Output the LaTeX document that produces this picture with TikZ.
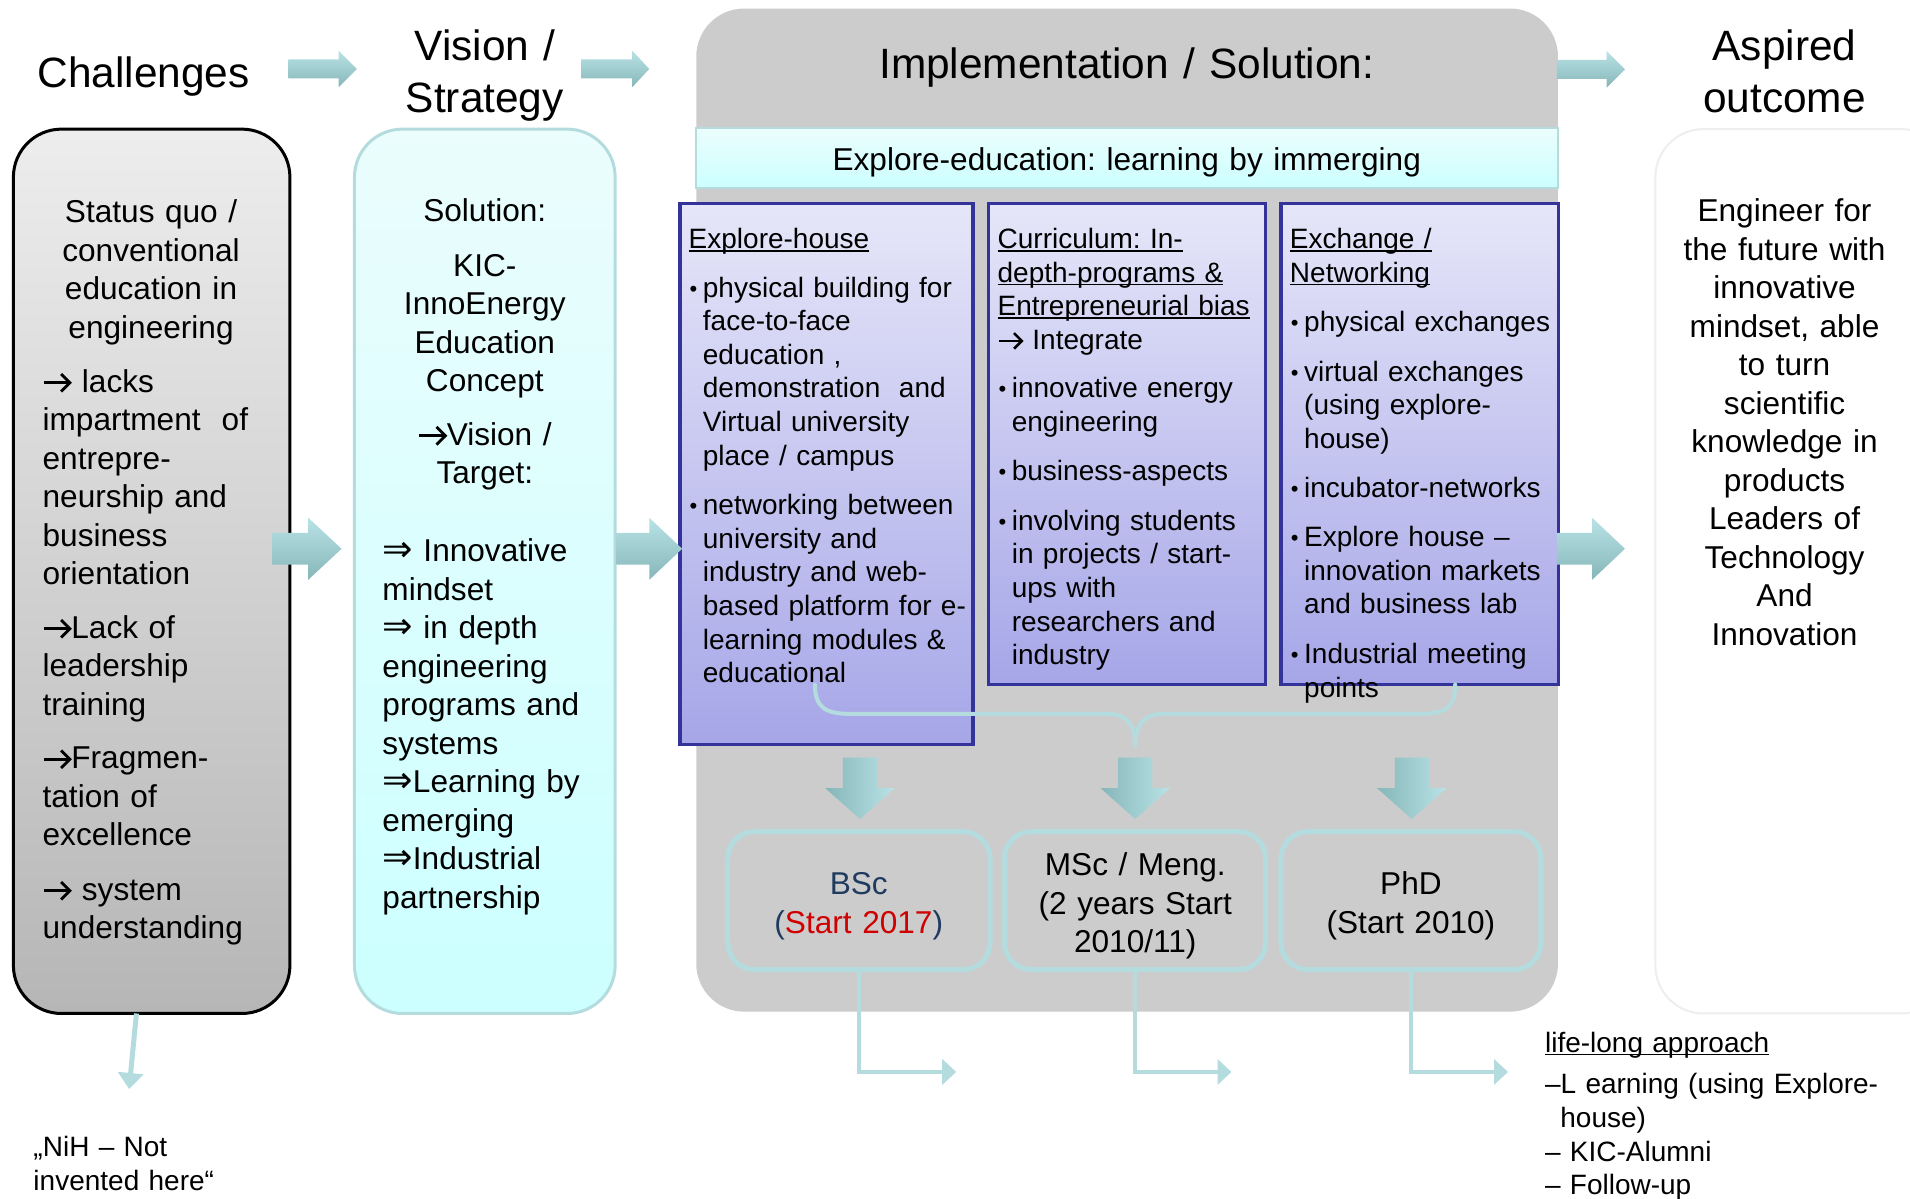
\documentclass[tikz,border=0pt]{standalone}
\usepackage{fontspec}
\setmainfont{Liberation Sans}
\newfontfamily\symf{DejaVu Sans}
\usetikzlibrary{fit,calc,arrows.meta}
\frenchspacing
\definecolor{chTop}{HTML}{EDEDED}
\definecolor{chBot}{HTML}{B6B6B6}
\definecolor{cyTop}{HTML}{EBFDFD}
\definecolor{cyBot}{HTML}{CCFFFF}
\definecolor{tealb}{HTML}{B4DCDF}
\definecolor{implgray}{HTML}{CCCCCC}
\definecolor{pTop}{HTML}{E6E6F9}
\definecolor{pBot}{HTML}{A6A6E8}
\definecolor{pborder}{HTML}{33339A}
\definecolor{aspline}{HTML}{EEEEEE}
\definecolor{arLight}{HTML}{B9E3E6}
\definecolor{arDark}{HTML}{86B6B9}
\definecolor{bscnavy}{HTML}{1F3B5F}
\definecolor{bscred}{HTML}{D00000}
\newcommand\fT{\fontsize{42.4pt}{51.5pt}\selectfont}
\newcommand\fB{\fontsize{31.6pt}{38.5pt}\selectfont}
\newcommand\fS{\fontsize{28pt}{33.6pt}\selectfont}
\newcommand\myra{\tikz[baseline=0pt,x=1em,y=1em]{\draw[line width=0.09em] (0.03,0.3) -- (0.84,0.3); \draw[line width=0.09em, line join=miter] (0.57,0.02) -- (0.85,0.3) -- (0.57,0.58);}}
\newcommand\myRa{{\symf\fontsize{1.15em}{1em}\selectfont ⇒}}
\newcommand\bl{\leavevmode\hspace*{1pt}\makebox[13.2pt][l]{\raisebox{1pt}{\fontsize{22pt}{22pt}\selectfont •}}}
\newcommand\indl{\leavevmode\hspace*{14.2pt}}
\newcommand\ulx[1]{\leavevmode\setbox0=\hbox{#1}\rlap{\rule[-3pt]{\wd0}{1.6pt}}\box0}
\newcommand\blockarrowH[6]{\shade[harr] (#1,{#4-#5}) -- (#2,{#4-#5}) -- (#2,{#4-#6}) -- (#3,#4) -- (#2,{#4+#6}) -- (#2,{#4+#5}) -- (#1,{#4+#5}) -- cycle;}
\newcommand\blockarrowD[6]{\shade[darr] ({#1-#5},#2) -- ({#1+#5},#2) -- ({#1+#5},#3) -- ({#1+#6},#3) -- (#1,#4) -- ({#1-#6},#3) -- ({#1-#5},#3) -- cycle;}
\begin{document}
\begin{tikzpicture}[x=1.2181pt,y=-1.2181pt,
  every node/.style={inner sep=0pt, outer sep=0pt},
  chalbox/.style={draw=black, line width=3pt, rounded corners=48pt, top color=chTop, bottom color=chBot},
  visbox/.style={draw=tealb, line width=3pt, rounded corners=48pt, top color=cyTop, bottom color=cyBot},
  implbox/.style={fill=implgray, rounded corners=48pt},
  bannerbox/.style={draw=tealb, line width=2pt, top color=cyTop, bottom color=cyBot},
  pbox/.style={draw=pborder, line width=3.2pt, top color=pTop, bottom color=pBot},
  degbox/.style={draw=tealb, line width=5pt, rounded corners=27pt},
  aspbox/.style={draw=aspline, line width=2pt, fill=white, rounded corners=48pt},
  ttl/.style={font=\fT, align=center, text width=620pt, anchor=base},
  bodyc/.style={font=\fB, align=center, text width=320pt, anchor=base},
  bodyl/.style={font=\fB, align=left, text width=320pt, anchor=base west},
  smalll/.style={font=\fS, align=left, text width=420pt, anchor=base west},
  conn/.style={draw=tealb, line width=4.5pt, -{Triangle[length=14pt,width=25pt]}},
  brace/.style={draw=tealb, line width=4pt, line cap=round},
  harr/.style={top color=arLight, bottom color=arDark},
  darr/.style={left color=arDark, right color=arLight}]
\useasboundingbox (0,0) rectangle (1568,984);
\clip (0,0) rectangle (1568,984);
\fill[white] (0,0) rectangle (1568,984);

% column boxes
\node[chalbox, fit={(11,106) (238,832)}] (chal) {};
\node[visbox, fit={(291,106) (505,832)}] (vis) {};
\node[implbox, fit={(571.6,7) (1279,830.5)}] (impl) {};
\node[aspbox, fit={(1359,106) (1600,832)}] (asp) {};
\node[bannerbox, fit={(571.5,105.4) (1279,154.6)}] (banner) {};
\node[pbox, fit={(558.3,167.2) (798.7,611.2)}] (eh) {};
\node[pbox, fit={(811.4,167.2) (1039,561.9)}] (cur) {};
\node[pbox, fit={(1051.6,167.2) (1279.4,561.9)}] (exch) {};
\node[degbox, fit={(597.4,682.7) (812.8,796)}] (bsc) {};
\node[degbox, fit={(824.6,682.7) (1039,796)}] (msc) {};
\node[degbox, fit={(1051.6,682.7) (1265,796)}] (phd) {};

% block arrows
\blockarrowH{237}{278}{293}{56.6}{7.8}{15}
\blockarrowH{477}{519}{533}{56.6}{7.8}{15}
\blockarrowH{1278}{1319}{1334}{57}{7.8}{15}
\blockarrowH{223.5}{253}{280.4}{450.5}{13}{25.5}
\blockarrowH{506}{533}{560}{450.5}{13}{25.5}
\blockarrowH{1278}{1307}{1334}{450.5}{13}{25.5}
\blockarrowD{706}{622}{647}{672.4}{14}{28.5}
\blockarrowD{932}{622}{647}{672.4}{14}{28.5}
\blockarrowD{1159}{622}{647}{672.4}{14}{28.5}

% titles
\node[ttl] (chT) at (118,71.5) {Challenges};
\node[ttl] (viT) at (398,50) {Vision /\\Strategy};
\node[ttl] (imT) at (925,64.5) {Implementation / Solution:};
\node[ttl] (asT) at (1465,50) {Aspired\\outcome};
\node[bodyc, text width=700pt] (banT) at (925,140) {Explore-education: learning by immerging};

% challenges text
\node[bodyc] (chA) at (124,183) {Status quo /\\conventional\\education in\\engineering};
\node[bodyl] (chB) at (35,322) {\myra{} lacks\\impartment~~of\\entrepre-\\neurship and\\business\\orientation\\[15pt]\myra Lack of\\leadership\\training\\[15pt]\myra Fragmen-\\tation of\\excellence\\[16pt]\myra{} system\\understanding};

% vision text
\node[bodyc] (viA) at (398,182) {Solution:\\[16pt]KIC-\\InnoEnergy\\Education\\Concept\\[15pt]\myra Vision /\\Target:};
\node[bodyl] (viB) at (314,461) {\myRa{} Innovative\\mindset\\\myRa{} in depth\\engineering\\programs and\\systems\\\myRa Learning by\\emerging\\\myRa Industrial\\partnership};

% aspired text
\node[bodyc] (asA) at (1465,182) {Engineer for\\the future with\\innovative\\mindset, able\\to turn\\scientific\\knowledge in\\products\\Leaders of\\Technology\\And\\Innovation};

% purple box texts
\node[smalll] (ehT) at (565.4,204) {\ulx{Explore-house}\\[15pt]\bl physical building for\\\indl face-to-face\\\indl education ,\\\indl demonstration~~and\\\indl Virtual university\\\indl place / campus\\[16pt]\bl networking between\\\indl university and\\\indl industry and web-\\\indl based platform for e-\\\indl learning modules \&\\\indl educational};
\node[smalll] (curT) at (819,204) {\ulx{Curriculum: In-}\\\ulx{depth-programs \&}\\\ulx{Entrepreneurial bias}\\\myra{} Integrate\\[15pt]\bl innovative energy\\\indl engineering\\[15.5pt]\bl business-aspects\\[16pt]\bl involving students\\\indl in projects / start-\\\indl ups with\\\indl researchers and\\\indl industry};
\node[smalll] (exT) at (1059,204) {\ulx{Exchange /}\\\ulx{Networking}\\[16pt]\bl physical exchanges\\[16pt]\bl virtual exchanges\\\indl (using explore-\\\indl house)\\[15pt]\bl incubator-networks\\[16pt]\bl Explore house –\\\indl innovation markets\\\indl and business lab\\[16pt]\bl Industrial meeting\\\indl points};

% brace
\draw[brace] (669,562) .. controls (669,580) and (677,586) .. (697,586) -- (909,586) .. controls (925,586) and (932,595) .. (932,612);
\draw[brace] (1194.6,562) .. controls (1194.6,580) and (1187,586) .. (1168,586) -- (955,586) .. controls (939,586) and (932,595) .. (932,612);

% degree texts
\node[bodyc] (bscT) at (705,734.5) {\textcolor{bscnavy}{BSc}\\\textcolor{bscnavy}{(}\textcolor{bscred}{Start 2017}\textcolor{bscnavy}{)}};
\node[bodyc] (mscT) at (932,719) {MSc / Meng.\\(2 years Start\\2010/11)};
\node[bodyc] (phdT) at (1158.3,734.5) {PhD\\(Start 2010)};

% connectors
\coordinate (bscEnd) at (785,880);
\coordinate (mscEnd) at (1011,880);
\coordinate (phdEnd) at (1238,880);
\draw[conn] (bsc.south) |- (bscEnd);
\draw[conn] (msc.south) |- (mscEnd);
\draw[conn] (phd.south) |- (phdEnd);
\coordinate (nihTip) at (106,894);
\draw[conn, line width=5pt, -{Triangle[length=16pt,width=25pt]}] ($(chal.south)+(-12.5,0)$) -- (nihTip);

% bottom texts
\node[smalll] (nih) at (27.5,949.6) {„NiH – Not\\invented here“};
\node[smalll] (ll) at (1268.4,864) {\ulx{life-long approach}\\[7.8pt]–L earning (using Explore-\\\hspace*{15.3pt}house)\\– KIC-Alumni\\– Follow-up};
\end{tikzpicture}
\end{document}
